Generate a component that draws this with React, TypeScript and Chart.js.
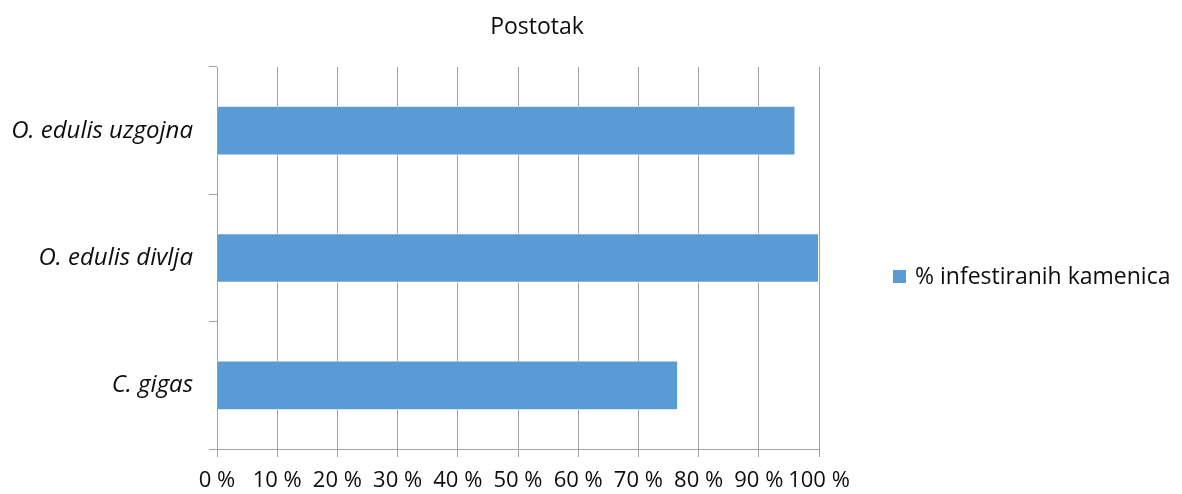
import React, { useEffect, useRef } from "react";
import { Chart, registerables } from "chart.js";

Chart.register(...registerables);

const categories = ["O. edulis uzgojna", "O. edulis divlja", "C. gigas"];
const values = [96.1, 100, 76.6];
const seriesLabel = "% infestiranih kamenica";
const titleText = "Postotak";
const xTicks = [0, 10, 20, 30, 40, 50, 60, 70, 80, 90, 100];

const FONT = "'Open Sans', sans-serif";
const BAR = "#5b9bd5";
const GRID = "#a0a0a0";
const TEXT = "#0d0d0d";

const refText = {
  id: "refText",
  afterDraw(chart: any) {
    const ctx = chart.ctx;
    ctx.save();
    ctx.fillStyle = TEXT;
    ctx.font = `23px ${FONT}`;
    ctx.textAlign = "center";
    ctx.textBaseline = "middle";
    ctx.fillText(titleText, 537, 27);
    const ds = chart.data.datasets[0];
    ctx.fillStyle = ds.backgroundColor;
    ctx.fillRect(893, 270, 13, 13);
    ctx.fillStyle = TEXT;
    ctx.textAlign = "left";
    ctx.fillText(ds.label, 915, 277);
    ctx.restore();
  },
};

export default function App() {
  const ref = useRef<HTMLCanvasElement>(null);
  useEffect(() => {
    const chart = new Chart(ref.current!, {
      type: "bar",
      data: {
        labels: categories,
        datasets: [
          {
            label: seriesLabel,
            data: values,
            backgroundColor: BAR,
            borderColor: "#ffffff",
            borderWidth: 1,
            barPercentage: 0.39,
            categoryPercentage: 1,
          },
        ],
      },
      plugins: [refText],
      options: {
        indexAxis: "y",
        animation: false,
        responsive: false,
        layout: { padding: { left: 0, top: 67, right: 363, bottom: 0 } },
        plugins: {
          legend: { display: false },
          title: { display: false },
          tooltip: { enabled: false },
        },
        scales: {
          x: {
            min: 0,
            max: 100,
            afterFit: (s: any) => {
              s.height = 45;
            },
            afterBuildTicks: (s: any) => {
              s.ticks = xTicks.map((v) => ({ value: v }));
            },
            ticks: {
              autoSkip: false,
              maxRotation: 0,
              padding: 11,
              color: TEXT,
              font: { family: FONT, size: 22 },
              callback: (v: any) => `${v} %`,
            },
            grid: { color: GRID, lineWidth: 1, tickLength: 8 },
            border: { color: GRID, width: 1 },
          },
          y: {
            afterFit: (s: any) => {
              s.width = 217;
            },
            ticks: {
              padding: 16,
              color: TEXT,
              font: { family: FONT, size: 24, style: "italic" },
            },
            grid: { drawOnChartArea: false, color: GRID, tickLength: 8, offset: true },
            border: { color: GRID, width: 1 },
          },
        },
      },
    });
    return () => chart.destroy();
  }, []);
  return (
    <div style={{ position: "fixed", left: 0, top: 0, width: 1182, height: 494, background: "#fff" }}>
      <canvas ref={ref} width={1182} height={494} style={{ width: 1182, height: 494 }} />
    </div>
  );
}
